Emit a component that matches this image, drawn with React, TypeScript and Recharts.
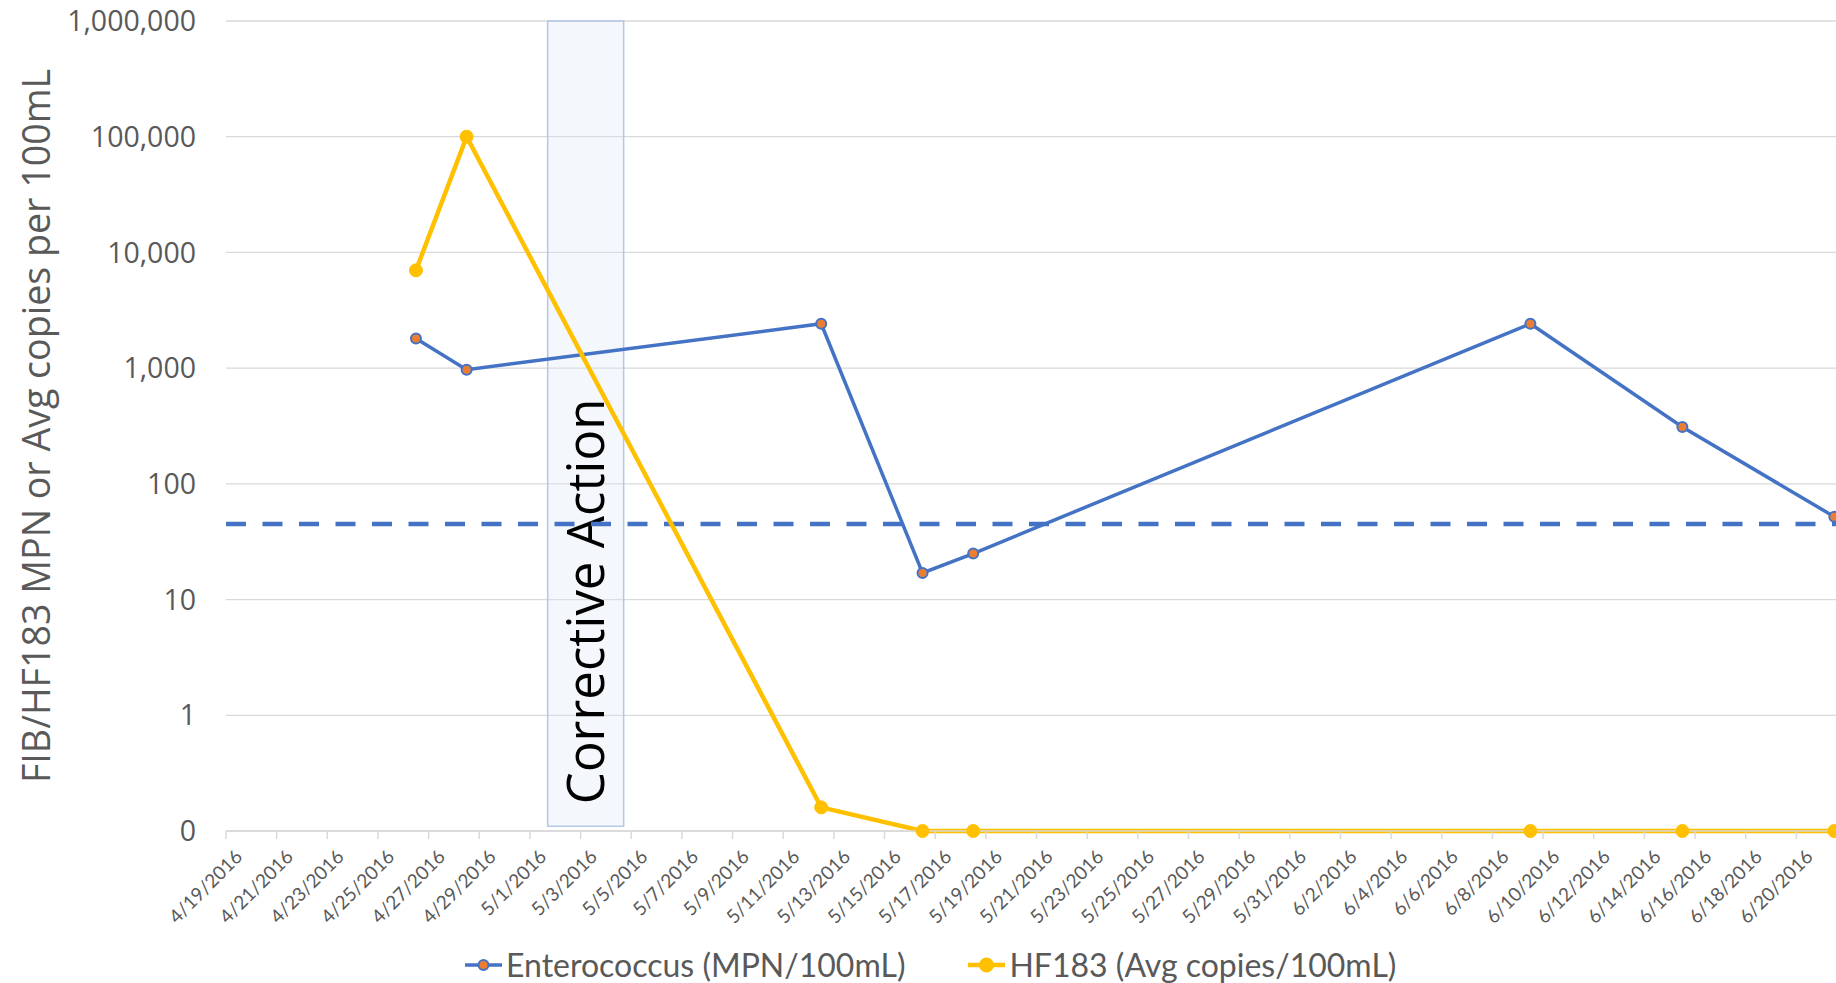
import {
  CartesianGrid,
  Legend,
  Line,
  LineChart,
  ReferenceArea,
  ReferenceLine,
  XAxis,
  YAxis,
} from "recharts";

// sampling dates and results
const sampleDates = [
  "4/26/2016",
  "4/28/2016",
  "5/12/2016",
  "5/16/2016",
  "5/18/2016",
  "6/9/2016",
  "6/15/2016",
  "6/21/2016",
];
const enterococcus = [1800, 970, 2420, 17, 25, 2420, 310, 52];
const hf183 = [7000, 100000, 0.16, 0.1, 0.1, 0.1, 0.1, 0.1];

// single-sample enterococcus standard (dashed line)
const enteroStandard = 45;

// corrective action window, in days after the first axis date
const correctiveWindow = [12.2, 15.2];

const xTickDates = [
  "4/19/2016", "4/21/2016", "4/23/2016", "4/25/2016", "4/27/2016", "4/29/2016",
  "5/1/2016", "5/3/2016", "5/5/2016", "5/7/2016", "5/9/2016", "5/11/2016",
  "5/13/2016", "5/15/2016", "5/17/2016", "5/19/2016", "5/21/2016", "5/23/2016",
  "5/25/2016", "5/27/2016", "5/29/2016", "5/31/2016", "6/2/2016", "6/4/2016",
  "6/6/2016", "6/8/2016", "6/10/2016", "6/12/2016", "6/14/2016", "6/16/2016",
  "6/18/2016", "6/20/2016",
];
const yTicks = [0.1, 1, 10, 100, 1000, 10000, 100000, 1000000];

const AXIS_START = xTickDates[0];
const AXIS_DAYS = 64;

const dayOf = (s: string) => {
  const [m, d, y] = s.split("/").map(Number);
  const [m0, d0, y0] = AXIS_START.split("/").map(Number);
  return Math.round((Date.UTC(y, m - 1, d) - Date.UTC(y0, m0 - 1, d0)) / 86400000);
};

const data = sampleDates.map((date, i) => ({
  day: dayOf(date),
  entero: enterococcus[i],
  hf183: hf183[i],
}));

const BLUE = "#4472c4";
const ORANGE = "#ed7d31";
const GOLD = "#ffc000";
const TEXT = "#595959";
const GRID = "#d9d9d9";

const CHART_W = 1860;
const CHART_H = 983;
const PLOT_TOP = 21;
const PLOT_BOTTOM = 831;
const PLOT_LEFT = 226;
const PLOT_RIGHT = 1847;
const DAY_PX = (PLOT_RIGHT - PLOT_LEFT) / AXIS_DAYS;

function DateTick(props: any) {
  const { x, y, payload } = props;
  const label = xTickDates.find((d) => dayOf(d) === payload.value) ?? "";
  const tx = x - DAY_PX / 2;
  return (
    <g>
      <line x1={tx} x2={tx} y1={y} y2={y + 8} stroke={GRID} strokeWidth={1.5} />
      <text
        x={x + 5}
        y={y + 27}
        textAnchor="end"
        fill={TEXT}
        fontSize={19}
        fontFamily="Lato"
        transform={`rotate(-45, ${x + 5}, ${y + 27})`}
      >
        {label}
      </text>
    </g>
  );
}

function CorrectiveLabel(props: any) {
  const vb = props.viewBox;
  const tx = vb.x + vb.width / 2 + 18;
  const ty = vb.y + vb.height - 22;
  return (
    <text
      x={tx}
      y={ty}
      fill="#000"
      fontSize={51}
      fontFamily="Open Sans"
      textAnchor="start"
      transform={`rotate(-90, ${tx}, ${ty})`}
    >
      Corrective Action
    </text>
  );
}

function AxisTitle(props: any) {
  const vb = props.viewBox;
  const cy = vb.y + vb.height / 2;
  return (
    <text
      x={50}
      y={cy}
      fill={TEXT}
      fontSize={37.6}
      fontFamily="Open Sans"
      textAnchor="middle"
      transform={`rotate(-90, 50, ${cy})`}
    >
      FIB/HF183 MPN or Avg copies per 100mL
    </text>
  );
}

function LegendBox() {
  const items = [
    { name: "Enterococcus (MPN/100mL)", line: BLUE, fill: ORANGE, r: 5, w: 3.5 },
    { name: "HF183 (Avg copies/100mL)", line: GOLD, fill: GOLD, r: 6.5, w: 4.5 },
  ];
  return (
    <div style={{ display: "flex", alignItems: "center", gap: 62 }}>
      {items.map((it) => (
        <div key={it.name} style={{ display: "flex", alignItems: "center" }}>
          <svg width={40} height={20}>
            <line x1={1} x2={38} y1={10} y2={10} stroke={it.line} strokeWidth={it.w} />
            <circle cx={19.5} cy={10} r={it.r} fill={it.fill} stroke={it.line} strokeWidth={2} />
          </svg>
          <span
            style={{
              fontFamily: "Lato",
              fontSize: 32,
              lineHeight: "38px",
              color: TEXT,
              marginLeft: 2,
              whiteSpace: "nowrap",
            }}
          >
            {it.name}
          </span>
        </div>
      ))}
    </div>
  );
}

export default function App() {
  return (
    <div
      style={{
        position: "fixed",
        left: 0,
        top: 0,
        width: 1836,
        height: 983,
        overflow: "hidden",
        background: "#fff",
        fontFamily: "Lato",
      }}
    >
      <LineChart
        width={CHART_W}
        height={CHART_H}
        data={data}
        margin={{ top: PLOT_TOP, right: CHART_W - PLOT_RIGHT, bottom: 0, left: 0 }}
      >
        <CartesianGrid vertical={false} stroke={GRID} strokeWidth={1.3} />
        <XAxis
          dataKey="day"
          type="number"
          domain={[-0.5, AXIS_DAYS - 0.5]}
          ticks={xTickDates.map(dayOf)}
          interval={0}
          tick={<DateTick />}
          tickLine={false}
          tickSize={0}
          tickMargin={0}
          axisLine={{ stroke: GRID, strokeWidth: 1.5 }}
          height={CHART_H - PLOT_BOTTOM}
        />
        <YAxis
          scale="log"
          domain={[0.1, 1000000]}
          ticks={yTicks}
          interval={0}
          width={PLOT_LEFT}
          tickSize={0}
          tickMargin={30}
          tickLine={false}
          axisLine={false}
          tick={{ fill: TEXT, fontSize: 28.5, fontFamily: "Open Sans" }}
          tickFormatter={(v: number) => (v < 1 ? "0" : v.toLocaleString("en-US"))}
          label={<AxisTitle />}
        />
        <ReferenceLine
          y={enteroStandard}
          stroke={BLUE}
          strokeWidth={4.5}
          strokeDasharray="20 16.5"
        />
        <Line
          dataKey="entero"
          stroke={BLUE}
          strokeWidth={3.5}
          dot={{ r: 5, fill: ORANGE, stroke: BLUE, strokeWidth: 2 }}
          activeDot={false}
          isAnimationActive={false}
        />
        <Line
          dataKey="hf183"
          stroke={GOLD}
          strokeWidth={4.5}
          dot={{ r: 6.5, fill: GOLD, stroke: GOLD, strokeWidth: 1 }}
          activeDot={false}
          isAnimationActive={false}
        />
        <ReferenceArea
          x1={correctiveWindow[0]}
          x2={correctiveWindow[1]}
          y1={0.11}
          y2={1000000}
          fill="#dae3f3"
          fillOpacity={0.3}
          stroke="#b4c7e7"
          strokeWidth={1.5}
          label={<CorrectiveLabel />}
        />
        <Legend
          layout="vertical"
          align="center"
          verticalAlign="bottom"
          content={<LegendBox />}
          wrapperStyle={{
            left: 464,
            top: 946,
            width: "auto",
            bottom: "auto",
            height: 0,
            overflow: "visible",
          }}
        />
      </LineChart>
    </div>
  );
}
